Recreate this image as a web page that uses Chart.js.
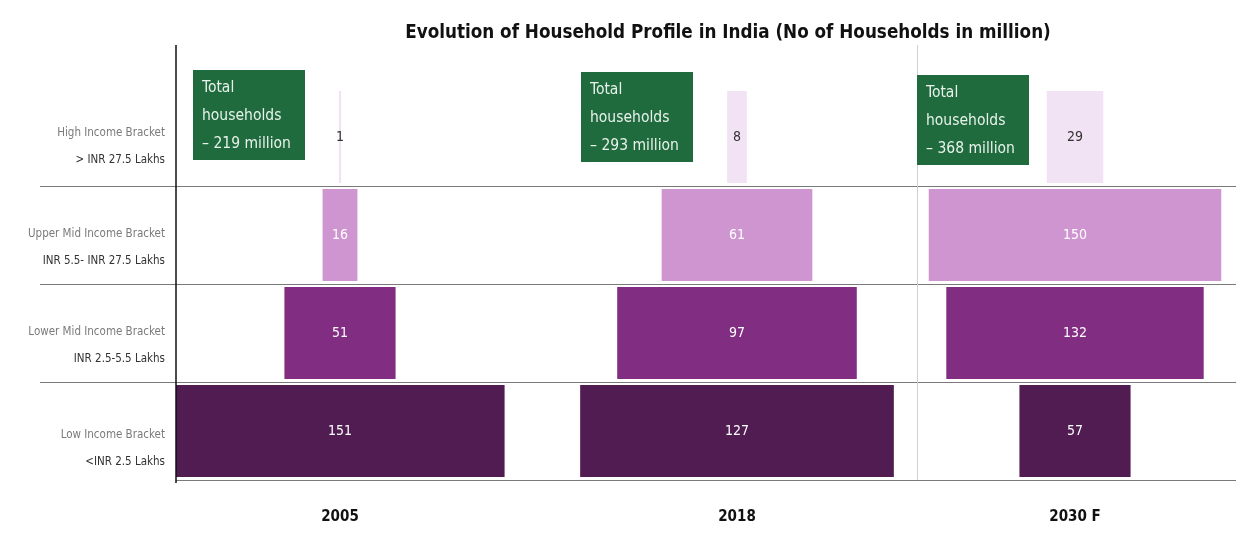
<!DOCTYPE html>
<html>
<head>
<meta charset="utf-8">
<script src="https://cdn.jsdelivr.net/npm/chart.js@4"></script>
<style>
  body { margin: 0; background: #fff; }
  #wrap { width: 1236px; height: 555px; position: relative; }
</style>
</head>
<body>
<div id="wrap"><canvas id="householdChart"></canvas></div>
<script>
// Data
const categories = ['High Income Bracket', 'Upper Mid Income Bracket', 'Lower Mid Income Bracket', 'Low Income Bracket'];
const incomeRanges = ['> INR 27.5 Lakhs', 'INR 5.5- INR 27.5 Lakhs', 'INR 2.5-5.5 Lakhs', '<INR 2.5 Lakhs'];
const years = ['2005', '2018', '2030 F'];
const households2005 = [1, 16, 51, 151];
const households2018 = [8, 61, 97, 127];
const households2030 = [29, 150, 132, 57];
const totalHouseholds = [219, 293, 368];

const rowColors = ['#f1e3f3', '#cf95d0', '#812d82', '#511c51'];
const FONT = "'Liberation Sans Narrow', 'DejaVu Sans Condensed', 'Liberation Sans', sans-serif";

// each year gets its own hidden x scale so the bars sit centred in their column
function xScale(centerPx, pxPerUnit) {
  return {
    type: 'linear', display: false,
    min: (176 - centerPx) / pxPerUnit,
    max: (1236 - centerPx) / pxPerUnit
  };
}

function yearDataset(label, values, axisId) {
  return {
    label: label,
    data: values.map(v => [-v / 2, v / 2]),
    values: values,
    xAxisID: axisId,
    backgroundColor: rowColors,
    grouped: false,
    barPercentage: 0.94,
    categoryPercentage: 1
  };
}

const framePlugin = {
  id: 'frame',
  beforeDatasetsDraw(chart) {
    const { ctx, chartArea, scales } = chart;
    const y = scales.y;
    const step = y.getPixelForValue(1) - y.getPixelForValue(0);
    ctx.save();
    ctx.strokeStyle = '#7a7a7a';
    ctx.lineWidth = 1;
    for (let i = 0; i < categories.length; i++) {
      const yy = Math.round(y.getPixelForValue(i) + step / 2) + 0.5;
      ctx.beginPath();
      ctx.moveTo(i === categories.length - 1 ? chartArea.left : 40, yy);
      ctx.lineTo(chartArea.right, yy);
      ctx.stroke();
    }
    // faint column divider
    ctx.strokeStyle = '#d0d0d0';
    ctx.beginPath();
    ctx.moveTo(917.5, 45);
    ctx.lineTo(917.5, chartArea.bottom);
    ctx.stroke();
    ctx.restore();
  },
  afterDatasetsDraw(chart) {
    const { ctx, chartArea, scales } = chart;
    const y = scales.y;
    ctx.save();

    // vertical axis
    ctx.strokeStyle = '#111';
    ctx.lineWidth = 1.5;
    ctx.beginPath();
    ctx.moveTo(176, 45);
    ctx.lineTo(176, chartArea.bottom + 3);
    ctx.stroke();

    // title
    ctx.fillStyle = '#111';
    ctx.font = 'bold 18.7px ' + FONT;
    ctx.textAlign = 'center';
    ctx.textBaseline = 'middle';
    ctx.fillText('Evolution of Household Profile in India (No of Households in million)', 728, 33);

    // row labels
    ctx.textAlign = 'right';
    ctx.font = '11.5px ' + FONT;
    const labelShift = [0, 3, 3, 8];
    categories.forEach((c, i) => {
      const cy = y.getPixelForValue(i) + labelShift[i];
      ctx.fillStyle = '#7a7a7a';
      ctx.fillText(c, 165, cy - 4);
      ctx.fillStyle = '#333';
      ctx.fillText(incomeRanges[i], 165, cy + 23);
    });

    // value labels on bars
    ctx.textAlign = 'center';
    ctx.font = '14px ' + FONT;
    chart.data.datasets.forEach((ds, di) => {
      chart.getDatasetMeta(di).data.forEach((bar, j) => {
        const p = bar.getCenterPoint();
        ctx.fillStyle = j === 0 ? '#333' : '#fff';
        ctx.fillText(ds.values[j], p.x, p.y);
      });
    });

    // year labels and total boxes
    const axisIds = ['x2005', 'x2018', 'x2030'];
    const boxLeft = [193, 581, 917];
    const boxTop = [70, 72, 75];
    years.forEach((yr, k) => {
      const cx = scales[axisIds[k]].getPixelForValue(0);
      ctx.fillStyle = '#111';
      ctx.font = 'bold 15px ' + FONT;
      ctx.textAlign = 'center';
      ctx.fillText(yr, cx, 517);

      ctx.fillStyle = '#1f6b3e';
      ctx.fillRect(boxLeft[k], boxTop[k], 112, 90);
      ctx.fillStyle = '#e8f2ea';
      ctx.font = '15.5px ' + FONT;
      ctx.textAlign = 'left';
      ctx.fillText('Total', boxLeft[k] + 9, boxTop[k] + 18);
      ctx.fillText('households', boxLeft[k] + 9, boxTop[k] + 46);
      ctx.fillText('– ' + totalHouseholds[k] + ' million', boxLeft[k] + 9, boxTop[k] + 74);
    });
    ctx.restore();
  }
};

new Chart(document.getElementById('householdChart'), {
  type: 'bar',
  data: {
    labels: categories,
    datasets: [
      yearDataset(years[0], households2005, 'x2005'),
      yearDataset(years[1], households2018, 'x2018'),
      yearDataset(years[2], households2030, 'x2030')
    ]
  },
  options: {
    indexAxis: 'y',
    responsive: true,
    maintainAspectRatio: false,
    animation: false,
    layout: { padding: { left: 176, right: 0, top: 88, bottom: 75 } },
    plugins: { legend: { display: false }, tooltip: { enabled: false } },
    scales: {
      y: { type: 'category', display: false, offset: true },
      x2005: xScale(340, 2.18),
      x2018: xScale(737, 2.47),
      x2030: xScale(1075, 1.95)
    }
  },
  plugins: [framePlugin]
});
</script>
</body>
</html>
